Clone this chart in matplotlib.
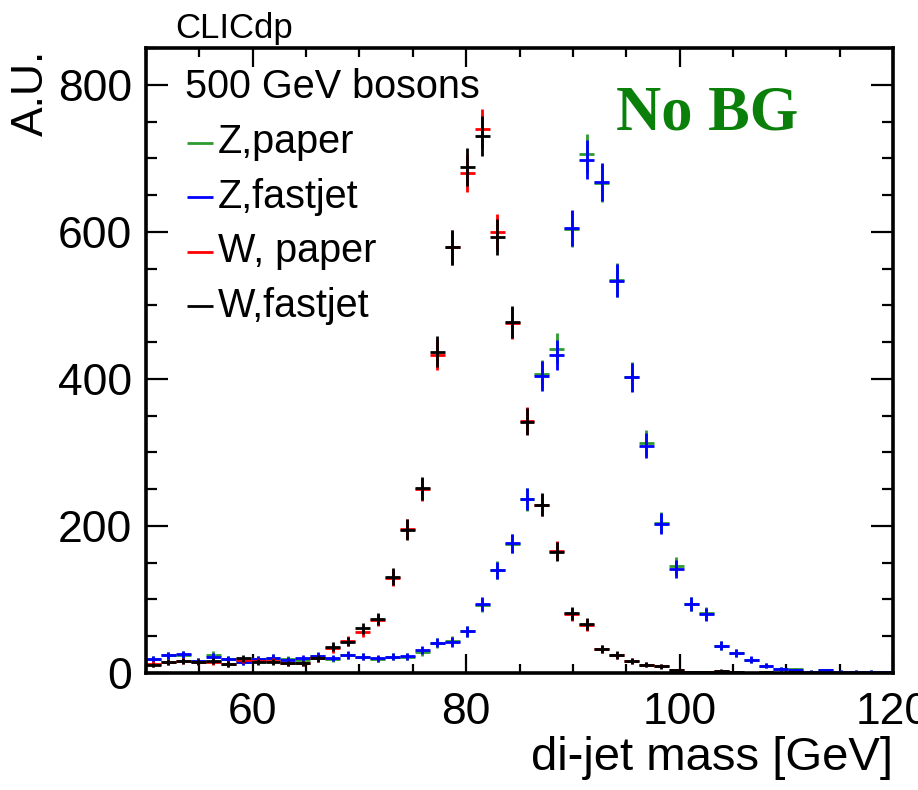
import numpy as np
import matplotlib
matplotlib.use("Agg")
import matplotlib.pyplot as plt
from matplotlib.ticker import MultipleLocator, FixedLocator

# ---------------- data ----------------
bin_edges = np.linspace(50.0, 120.0, 51)      # 50 bins of 1.4 GeV

z_paper = [19, 24, 25, 16, 24.5, 18.6, 15.4, 19, 20.9, 19,
           17.7, 23, 19, 24, 22, 19, 22, 22, 28, 41,
           44, 57, 92.5, 140, 176, 236, 406, 441, 604, 706,
           667, 534, 403, 313, 204.5, 146, 93.4, 81, 37.2, 27.7,
           18, 10, 5.4, 5, 2, 3.6, 2, 2, 2, 1]

z_fastjet = [19, 24, 25.4, 16.3, 22.2, 18.6, 15.4, 19, 20.9, 17.7,
             20.4, 23.1, 20.5, 24.5, 22.2, 20, 22, 22.9, 30.8, 41.3,
             42.5, 56.8, 94.3, 139.8, 176.4, 236.5, 404, 432.5, 605.5, 698.3,
             668.2, 533.8, 402.2, 309.4, 202.7, 141.5, 93.4, 79.8, 37.2, 27.7,
             18.2, 10, 5.4, 3.6, 2, 3.6, 2, 2, 2, 1]

w_paper = [12.2, 14.5, 16.3, 15.4, 15.4, 12.2, 17.7, 16.3, 16.8, 13.2,
           13.2, 20, 33.5, 44, 56, 72, 129, 196, 250, 433,
           579, 680, 740, 600, 476, 343, 228.6, 166, 80, 65,
           32.6, 24, 16, 11, 9.5, 4, 1.5, 1.5, 3, 1.5,
           0, 1.5, 0, 1.5, 0, 0, 0, 0, 0, 0]

w_fastjet = [10.9, 15.4, 16.3, 15.4, 16.3, 12.2, 20, 15.4, 15.4, 13.2,
             13.2, 20, 35.8, 42.6, 60.8, 73.5, 131, 195, 251, 437,
             579, 688, 730, 593, 477, 342, 229, 165, 81, 66,
             33, 24.5, 16.5, 11.5, 9, 4, 1, 1, 3.3, 1.5,
             0, 1, 0, 1.5, 0, 0, 0, 0, 0, 0]

series_labels = ["Z,paper", "Z,fastjet", "W, paper", "W,fastjet"]
series_colors = ["#2f9a2f", "#0000ff", "#ff0000", "#000000"]
x_ticks = [60, 80, 100, 120]
y_ticks = [0, 200, 400, 600, 800]

# ---------------- figure ----------------
plt.rcParams['font.family'] = ['Liberation Sans', 'DejaVu Sans']

W, H = 918, 790
fig = plt.figure(figsize=(W / 100, H / 100), dpi=100)
ax = fig.add_axes([146 / W, 1 - 673 / H, (893 - 146) / W, (673 - 48) / H])

centers = 0.5 * (bin_edges[:-1] + bin_edges[1:])
half_w = 0.5 * (bin_edges[1:] - bin_edges[:-1])

for vals, col in zip([z_paper, z_fastjet, w_paper, w_fastjet], series_colors):
    v = np.asarray(vals, dtype=float)
    ax.errorbar(centers, v, xerr=half_w, yerr=np.sqrt(v), fmt='none',
                ecolor=col, elinewidth=2.0, capsize=0, zorder=3)

ax.set_xlim(50, 120)
ax.set_ylim(0, 850)

ax.xaxis.set_major_locator(FixedLocator(x_ticks))
ax.xaxis.set_minor_locator(MultipleLocator(5))
ax.yaxis.set_major_locator(FixedLocator(y_ticks))
ax.yaxis.set_minor_locator(MultipleLocator(50))

for s in ax.spines.values():
    s.set_linewidth(2.6)
    s.set_zorder(5)

ax.tick_params(axis='both', which='both', direction='in', top=True, right=True,
               width=1.6, labelsize=32)
ax.tick_params(axis='x', which='major', length=14, pad=14)
ax.tick_params(axis='x', which='minor', length=6.5)
ax.tick_params(axis='y', which='major', length=16, pad=10)
ax.tick_params(axis='y', which='minor', length=8)

# axis titles
fig.text(893 / W, 1 - 770 / H, "di-jet mass [GeV]", ha='right', va='baseline',
         fontsize=34)
fig.text(31 / W, 1 - 50 / H, "A.U.", rotation=90, ha='center', va='top',
         fontsize=32)

# CLICdp label
fig.text(175 / W, 1 - 38 / H, "CLICdp", ha='left', va='baseline', fontsize=25)

# No BG
fig.text(616 / W, 1 - 130 / H, "No BG", ha='left', va='baseline', fontsize=45,
         fontweight='bold', family=['Liberation Serif', 'DejaVu Serif'],
         color='#0a800a')

# legend (manual, ROOT style)
ax.text(0.0522, 0.9195, "500 GeV bosons", transform=ax.transAxes,
        ha='left', va='baseline', fontsize=28.5)
text_y = [0.8315, 0.7435, 0.658, 0.570]
line_y = [0.8485, 0.761, 0.674, 0.587]
for lab, col, ty, ly in zip(series_labels, series_colors, text_y, line_y):
    ax.plot([0.0549, 0.0897], [ly, ly], transform=ax.transAxes, color=col,
            lw=2.0, solid_capstyle='butt', clip_on=False)
    ax.text(0.0964, ty, lab, transform=ax.transAxes, ha='left',
            va='baseline', fontsize=28.5)

fig.savefig("out.png", dpi=100)
